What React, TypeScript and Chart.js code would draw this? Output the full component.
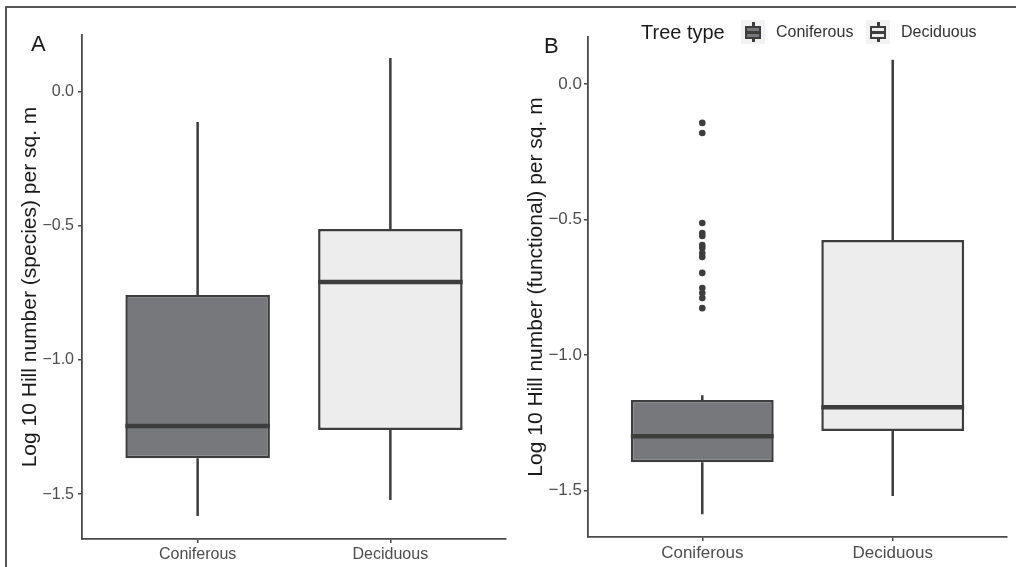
import React, { useEffect, useRef } from "react";
import { Chart, registerables } from "chart.js";
Chart.register(...registerables);

const categories = ["Coniferous", "Deciduous"];
const yTicks = [-1.5, -1.0, -0.5, 0.0];

// Panel A: Log 10 Hill number (species)
const speciesWhiskerLow = [-1.582, -1.522];
const speciesQ1 = [-1.366, -1.261];
const speciesMedian = [-1.246, -0.709];
const speciesQ3 = [-0.757, -0.511];
const speciesWhiskerHigh = [-0.112, 0.127];
const speciesOutliers: number[][] = [[], []];

// Panel B: Log 10 Hill number (functional)
const functionalWhiskerLow = [-1.587, -1.52];
const functionalQ1 = [-1.395, -1.28];
const functionalMedian = [-1.299, -1.192];
const functionalQ3 = [-1.166, -0.576];
const functionalWhiskerHigh = [-1.148, 0.089];
const functionalOutliers: number[][] = [
  [-0.144, -0.181, -0.513, -0.55, -0.561, -0.594, -0.605, -0.624, -0.638, -0.697, -0.753, -0.771, -0.79, -0.827],
  [],
];

const FILLS = ["#77787b", "#ededed"];
const LINE = "#3d3d3d";
const AXIS = "#4a4a4a";
const FONT = "'Liberation Sans', Arial, Helvetica, sans-serif";

type Panel = {
  low: number[];
  q1: number[];
  med: number[];
  q3: number[];
  high: number[];
  out: number[][];
  title: string;
  tickSize: number;
  padTop: number;
  padRight: number;
  yWidth: number;
  xHeight: number;
  titlePad: number;
  yTickPad: number;
};

function fmt(v: number) {
  const s = v.toFixed(1);
  return s.replace("-", "\u2212");
}

function makeConfig(p: Panel): any {
  const all = [...p.low, ...p.high, ...p.out.flat()];
  const lo = Math.min(...all);
  const hi = Math.max(...all);
  const pad = (hi - lo) * 0.05;

  const boxPlugin = {
    id: "boxParts",
    beforeDatasetsDraw(chart: any) {
      const ctx = chart.ctx;
      const xs = chart.scales.x;
      const ys = chart.scales.y;
      ctx.save();
      ctx.strokeStyle = LINE;
      ctx.lineWidth = 2.5;
      ctx.lineCap = "butt";
      categories.forEach((_, i) => {
        const x = xs.getPixelForValue(i + 1);
        ctx.beginPath();
        ctx.moveTo(x, ys.getPixelForValue(p.low[i]));
        ctx.lineTo(x, ys.getPixelForValue(p.q1[i]));
        ctx.moveTo(x, ys.getPixelForValue(p.q3[i]));
        ctx.lineTo(x, ys.getPixelForValue(p.high[i]));
        ctx.stroke();
      });
      ctx.restore();
    },
    afterDatasetsDraw(chart: any) {
      const ctx = chart.ctx;
      const ys = chart.scales.y;
      const meta = chart.getDatasetMeta(0);
      ctx.save();
      ctx.strokeStyle = LINE;
      ctx.lineWidth = 4.5;
      categories.forEach((_, i) => {
        const el = meta.data[i];
        const y = ys.getPixelForValue(p.med[i]);
        ctx.beginPath();
        ctx.moveTo(el.x - el.width / 2, y);
        ctx.lineTo(el.x + el.width / 2, y);
        ctx.stroke();
      });
      ctx.restore();
    },
  };

  const outlierData: { x: number; y: number }[] = [];
  p.out.forEach((arr, i) => arr.forEach((v) => outlierData.push({ x: i + 1, y: v })));

  return {
    type: "bar",
    data: {
      datasets: [
        {
          type: "bar",
          data: categories.map((_, i) => ({ x: i + 1, y: [p.q1[i], p.q3[i]] })),
          backgroundColor: FILLS,
          borderColor: LINE,
          borderWidth: 2.5,
          borderSkipped: false,
          barPercentage: 0.75,
          categoryPercentage: 1,
        },
        {
          type: "scatter",
          data: outlierData,
          pointRadius: 3.3,
          pointBackgroundColor: LINE,
          pointBorderWidth: 0,
        },
      ],
    },
    options: {
      animation: false,
      responsive: false,
      maintainAspectRatio: false,
      layout: { padding: { left: 0, right: p.padRight, top: p.padTop, bottom: 0 } },
      plugins: { legend: { display: false }, tooltip: { enabled: false } },
      scales: {
        x: {
          type: "linear",
          min: 0.4,
          max: 2.6,
          offset: false,
          afterBuildTicks: (s: any) => {
            s.ticks = categories.map((_, i) => ({ value: i + 1 }));
          },
          afterFit: (s: any) => {
            s.height = p.xHeight;
          },
          ticks: {
            callback: (v: any) => categories[Math.round(v) - 1],
            font: { family: FONT, size: p.tickSize },
            color: "#4d4d4d",
            padding: 2,
            autoSkip: false,
            maxRotation: 0,
          },
          grid: {
            display: true,
            offset: false,
            drawOnChartArea: false,
            drawTicks: true,
            tickLength: 4,
            color: AXIS,
            lineWidth: 1.5,
          },
          border: { display: true, color: AXIS, width: 1.8 },
        },
        y: {
          type: "linear",
          min: lo - pad,
          max: hi + pad,
          afterBuildTicks: (s: any) => {
            s.ticks = yTicks.map((v) => ({ value: v }));
          },
          afterFit: (s: any) => {
            s.width = p.yWidth;
          },
          ticks: {
            callback: (v: any) => fmt(v),
            font: { family: FONT, size: p.tickSize },
            color: "#4d4d4d",
            padding: p.yTickPad,
          },
          grid: { display: true, drawOnChartArea: false, drawTicks: true, tickLength: 4, color: AXIS, lineWidth: 1.5 },
          border: { display: true, color: AXIS, width: 1.8 },
          title: {
            display: true,
            text: p.title,
            font: { family: FONT, size: 21 },
            color: "#1a1a1a",
            padding: { top: p.titlePad, bottom: 0 },
          },
        },
      },
    },
    plugins: [boxPlugin],
  };
}

const panelA: Panel = {
  low: speciesWhiskerLow,
  q1: speciesQ1,
  med: speciesMedian,
  q3: speciesQ3,
  high: speciesWhiskerHigh,
  out: speciesOutliers,
  title: "Log 10 Hill number (species) per sq. m",
  tickSize: 16,
  padTop: 35,
  padRight: 2,
  yWidth: 82,
  xHeight: 28,
  titlePad: 18,
  yTickPad: 4,
};

const panelB: Panel = {
  low: functionalWhiskerLow,
  q1: functionalQ1,
  med: functionalMedian,
  q3: functionalQ3,
  high: functionalWhiskerHigh,
  out: functionalOutliers,
  title: "Log 10 Hill number (functional) per sq. m",
  tickSize: 17,
  padTop: 37,
  padRight: 9,
  yWidth: 80,
  xHeight: 30,
  titlePad: 16,
  yTickPad: 2,
};

function BoxChart({ panel, left }: { panel: Panel; left: number }) {
  const ref = useRef<HTMLCanvasElement>(null);
  useEffect(() => {
    if (!ref.current) return;
    const chart = new Chart(ref.current, makeConfig(panel));
    return () => chart.destroy();
  }, [panel]);
  return (
    <canvas
      ref={ref}
      width={508}
      height={567}
      style={{ position: "absolute", left, top: 0, width: 508, height: 567 }}
    />
  );
}

function KeyGlyph({ left, fill }: { left: number; fill: string }) {
  return (
    <div style={{ position: "absolute", left, top: 20, width: 24, height: 24, background: "#f2f2f2" }}>
      <div style={{ position: "absolute", left: 11, top: 2, width: 2.5, height: 20, background: LINE }} />
      <div
        style={{
          position: "absolute",
          left: 4,
          top: 6,
          width: 16,
          height: 13,
          boxSizing: "border-box",
          border: `2px solid ${LINE}`,
          background: fill,
        }}
      />
      <div style={{ position: "absolute", left: 4, top: 11, width: 16, height: 3, background: LINE }} />
    </div>
  );
}

export default function App() {
  const txt: React.CSSProperties = { position: "absolute", fontFamily: FONT, color: "#1a1a1a", whiteSpace: "nowrap", lineHeight: 1 };
  return (
    <div style={{ position: "fixed", left: 0, top: 0, width: 1016, height: 567, background: "#ffffff", overflow: "hidden" }}>
      <BoxChart panel={panelA} left={0} />
      <BoxChart panel={panelB} left={508} />
      <div
        style={{
          position: "absolute",
          left: 5,
          top: 6,
          width: 1011,
          height: 561,
          borderTop: "2px solid #555",
          borderLeft: "2px solid #555",
          boxSizing: "border-box",
          pointerEvents: "none",
        }}
      />
      <div style={{ ...txt, left: 31, top: 33, fontSize: 22 }}>A</div>
      <div style={{ ...txt, left: 544, top: 35, fontSize: 22 }}>B</div>
      <div style={{ ...txt, left: 641, top: 22, fontSize: 20 }}>Tree type</div>
      <KeyGlyph left={741} fill={FILLS[0]} />
      <div style={{ ...txt, left: 776, top: 24, fontSize: 16, color: "#333" }}>{categories[0]}</div>
      <KeyGlyph left={866} fill={FILLS[1]} />
      <div style={{ ...txt, left: 901, top: 24, fontSize: 16, color: "#333" }}>{categories[1]}</div>
    </div>
  );
}
